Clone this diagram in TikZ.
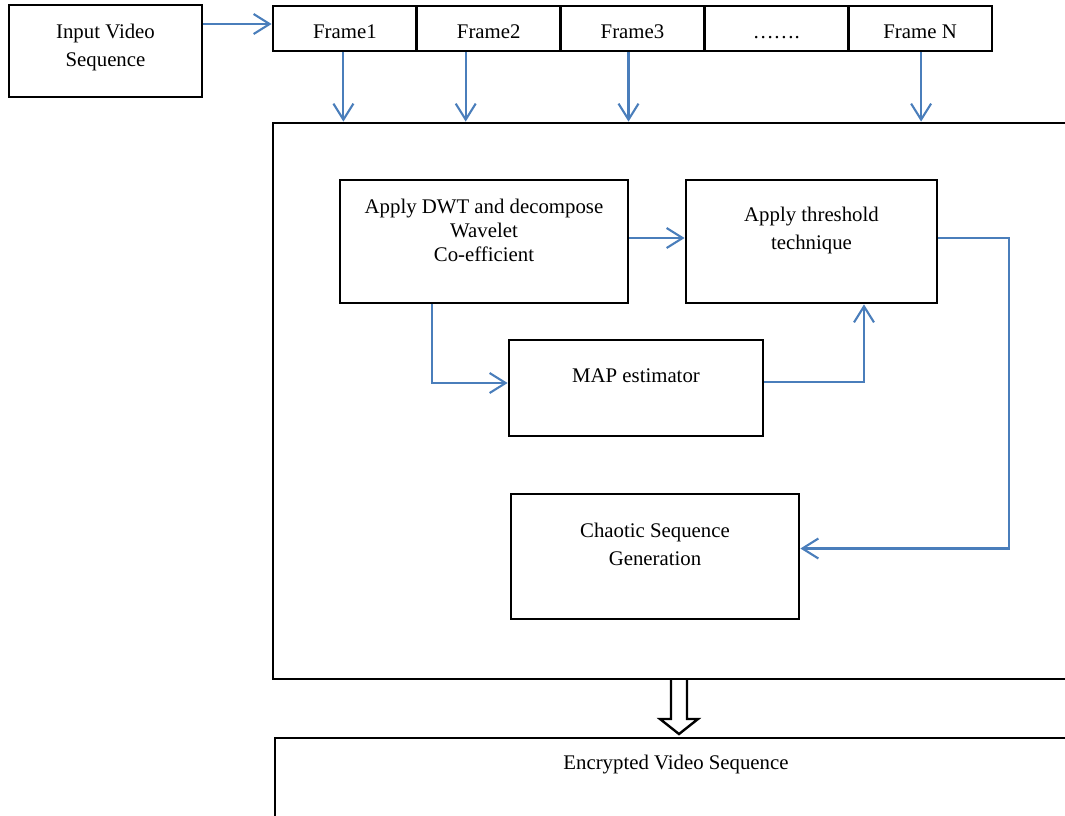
\documentclass[tikz,border=0pt]{standalone}
\usepackage{fontspec}
\setmainfont{Liberation Serif}
\usetikzlibrary{arrows.meta}
\definecolor{flow}{HTML}{4A7EBB}

\begin{document}
\begin{tikzpicture}[x=1pt,y=-1pt,line width=2.8pt,
  >={Straight Barb[length=16pt,width=20pt]},
  font=\fontsize{20.8}{28}\selectfont]
\tikzset{
  box/.style={draw,rectangle,inner sep=0pt},
  txt/.style={align=center,inner sep=0pt},
  link/.style={flow,line width=2.1pt,->},
}
\path[use as bounding box,clip] (0,0) rectangle (1065,815);
\node[box,minimum width=193pt,minimum height=92pt] (in) at (105.5,51) {};
\node[txt] (in-t) at (105.5,47) {Input Video\\Sequence};
\foreach \i/\t in {1/Frame1,2/Frame2,3/Frame3,4/…….,5/Frame N}
  \node[box,minimum width=143.8pt,minimum height=45pt,text height=19pt,text depth=0pt] (f\i) at (273+143.8*\i-71.9,28.5) {\t};
\node[box,minimum width=900pt,minimum height=556pt] (core) at (723,401) {};
\node[box,minimum width=288pt,minimum height=123pt] (dwt) at (484,241.5) {};
\node[txt,font=\fontsize{20.8}{24}\selectfont] (dwt-t) at (484,230) {Apply DWT and decompose\\Wavelet\\Co-efficient};
\node[box,minimum width=251pt,minimum height=123pt] (thr) at (811.5,241.5) {};
\node[txt] (thr-t) at (811.5,230) {Apply threshold\\technique};
\node[box,minimum width=254pt,minimum height=96pt] (map) at (636,388) {};
\node[txt] (map-t) at (636,376) {MAP estimator};
\node[box,minimum width=288pt,minimum height=125pt] (chaos) at (655,556.5) {};
\node[txt] (chaos-t) at (655,544.5) {Chaotic Sequence\\Generation};
\node[box,minimum width=900pt,minimum height=200pt] (enc) at (725,838) {};
\node[txt] (enc-t) at (676,765) {Encrypted Video Sequence};
\coordinate (in-o) at ([yshift=4.5pt]f1.west);
\draw[link] (in.east |- in-o) -- (in-o);
\foreach \f/\d in {f1/-1.5,f2/-23,f3/-4,f5/1}{
  \coordinate (\f-o) at ([xshift=\d pt]\f.south);
  \draw[link] (\f-o) -- (\f-o |- core.north);
}
\draw[link] ([yshift=3.5pt]dwt.east) -- ([yshift=3.5pt]thr.west);
\draw[link] ([yshift=3.5pt]thr.east) -- ++(71,0) |- ([yshift=8pt]chaos.east);
\draw[link] ([xshift=-52pt]dwt.south) |- ([yshift=5pt]map.west);
\draw[link] ([yshift=6pt]map.east) -| ([xshift=52.5pt]thr.south);
\draw[line width=2.4pt] (671,679) -- (671,719) -- (660,719) -- (679,734) -- (698,719) -- (687,719) -- (687,679);
\end{tikzpicture}
\end{document}
